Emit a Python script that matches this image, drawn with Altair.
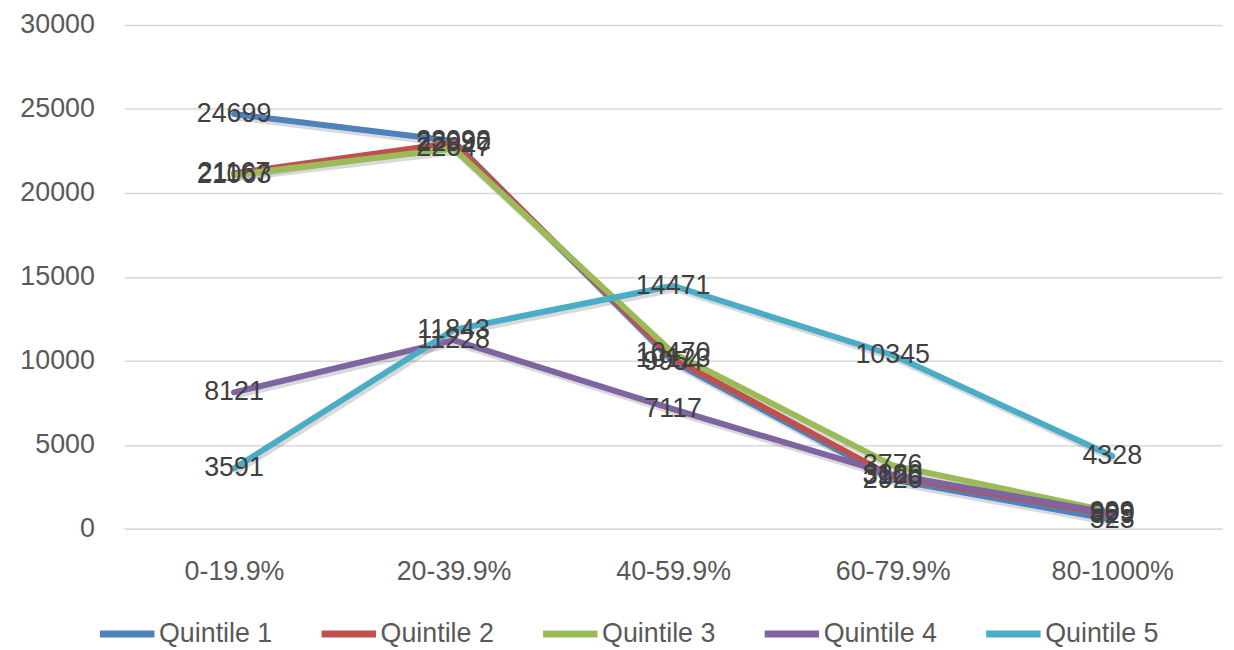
import altair as alt
import pandas as pd

categories = ["0-19.9%", "20-39.9%", "40-59.9%", "60-79.9%", "80-1000%"]
series_names = ["Quintile 1", "Quintile 2", "Quintile 3", "Quintile 4", "Quintile 5"]
q1 = [24699, 23092, 9954, 2926, 523]
q2 = [21167, 22990, 10123, 3106, 829]
q3 = [21063, 22647, 10470, 3776, 999]
q4 = [8121, 11228, 7117, 3220, 909]
q5 = [3591, 11843, 14471, 10345, 4328]
colors = ["#4F81BD", "#C0504D", "#9BBB59", "#8064A2", "#4BACC6"]
y_ticks = [0, 5000, 10000, 15000, 20000, 25000, 30000]

rows = []
for name, vals in zip(series_names, [q1, q2, q3, q4, q5]):
    for i, (c, v) in enumerate(zip(categories, vals)):
        rows.append({"series": name, "cat": c, "value": v, "order": i})
df = pd.DataFrame(rows)

FONT = "Liberation Sans"

x_enc = alt.X("cat:N", sort=categories,
              scale=alt.Scale(type="point", domain=categories, padding=0.5),
              axis=alt.Axis(title=None, labelAngle=0, labelFontSize=27, labelColor="#595959",
                            labelFont=FONT, ticks=False, domain=True, domainColor="#d9d9d9",
                            domainWidth=1.5, labelPadding=30, grid=False))
y_enc = alt.Y("value:Q", scale=alt.Scale(domain=[0, 30000], nice=False),
              axis=alt.Axis(title=None, values=y_ticks, format="d", labelFontSize=27,
                            labelColor="#595959", labelFont=FONT, ticks=False, domain=False,
                            gridColor="#d9d9d9", gridWidth=1.5, labelPadding=30))
color_enc = alt.Color("series:N", scale=alt.Scale(domain=series_names, range=colors),
                      legend=alt.Legend(title=None, orient="none", direction="horizontal",
                                        legendX=-28, legendY=582,
                                        symbolType="stroke", symbolStrokeWidth=7, symbolSize=3000,
                                        labelFontSize=27, labelColor="#595959", labelFont=FONT,
                                        labelOffset=1, columnPadding=34))

base = alt.Chart(df)

shadow = base.mark_line(strokeWidth=5, color="#000000", opacity=0.15, xOffset=2, yOffset=4).encode(
    x=x_enc, y=y_enc, detail="series:N", order="order:Q")

lines = base.mark_line(strokeWidth=6, strokeCap="round", strokeJoin="round").encode(
    x=x_enc, y=y_enc, color=color_enc, order="order:Q")

labels = base.mark_text(fontSize=27, font=FONT, color="#404040", align="center",
                        baseline="middle").encode(
    x=x_enc, y=y_enc, text=alt.Text("value:Q", format="d"), detail="series:N")

chart = alt.layer(shadow, lines, labels).properties(
    width=1105, height=507,
    background="white",
    autosize=alt.AutoSizeParams(type="none"),
    padding={"left": 117, "top": 15, "right": 4, "bottom": 120},
).configure_view(strokeWidth=0, strokeOpacity=0)

chart.save("out.html", embed_options={"renderer": "svg", "actions": False})
